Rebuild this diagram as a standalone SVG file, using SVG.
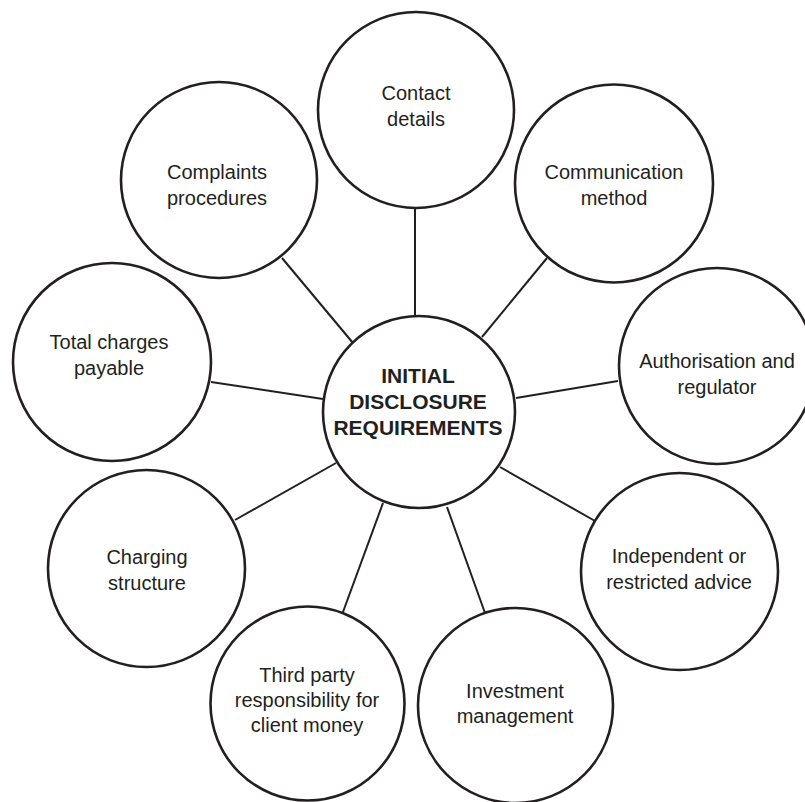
<svg xmlns="http://www.w3.org/2000/svg" width="805" height="802" viewBox="0 0 805 802">
<style>
.bg{fill:#ffffff}
.node circle{fill:#ffffff;stroke:#231f20;stroke-width:2.6}
.node text{font-family:"Liberation Sans",Arial,sans-serif;font-size:20px;fill:#231f20;text-anchor:middle}
#center text{font-weight:bold;font-size:21px}
#connectors line{stroke:#231f20;stroke-width:2}
</style>
<rect class="bg" x="0" y="0" width="805" height="802"/>
<g id="connectors">
<line x1="415" y1="208" x2="415" y2="317"/>
<line x1="547" y1="258" x2="482" y2="337"/>
<line x1="282" y1="258" x2="353" y2="343"/>
<line x1="211" y1="382" x2="323" y2="399"/>
<line x1="618" y1="381" x2="516" y2="398"/>
<line x1="595" y1="521" x2="500" y2="467"/>
<line x1="235" y1="520" x2="336" y2="463"/>
<line x1="343" y1="612" x2="383" y2="503"/>
<line x1="447" y1="507" x2="485" y2="613"/>
</g>
<g id="center" class="node">
<circle cx="419" cy="412" r="96"/>
<text x="418" y="383">INITIAL</text>
<text x="418" y="409">DISCLOSURE</text>
<text x="418" y="435">REQUIREMENTS</text>
</g>
<g id="contact" class="node">
<circle cx="416" cy="110" r="98"/>
<text x="416" y="100">Contact</text>
<text x="416" y="126">details</text>
</g>
<g id="communication" class="node">
<circle cx="614" cy="183.5" r="99"/>
<text x="614" y="179">Communication</text>
<text x="614" y="205">method</text>
</g>
<g id="complaints" class="node">
<circle cx="219" cy="180" r="98"/>
<text x="217" y="179">Complaints</text>
<text x="217" y="205">procedures</text>
</g>
<g id="authorisation" class="node">
<circle cx="717" cy="366" r="98"/>
<text x="717" y="368">Authorisation and</text>
<text x="717" y="394">regulator</text>
</g>
<g id="total" class="node">
<circle cx="112" cy="362" r="99"/>
<text x="109" y="349">Total charges</text>
<text x="109" y="375">payable</text>
</g>
<g id="independent" class="node">
<circle cx="679.5" cy="571.5" r="98.5"/>
<text x="679" y="563">Independent or</text>
<text x="679" y="589">restricted advice</text>
</g>
<g id="charging" class="node">
<circle cx="146.5" cy="568.5" r="98.5"/>
<text x="147" y="564">Charging</text>
<text x="147" y="590">structure</text>
</g>
<g id="thirdparty" class="node">
<circle cx="307.5" cy="703.5" r="97"/>
<text x="307" y="682">Third party</text>
<text x="307" y="707">responsibility for</text>
<text x="307" y="732">client money</text>
</g>
<g id="investment" class="node">
<circle cx="515.5" cy="705.5" r="97.5"/>
<text x="515" y="698">Investment</text>
<text x="515" y="723">management</text>
</g>
</svg>
